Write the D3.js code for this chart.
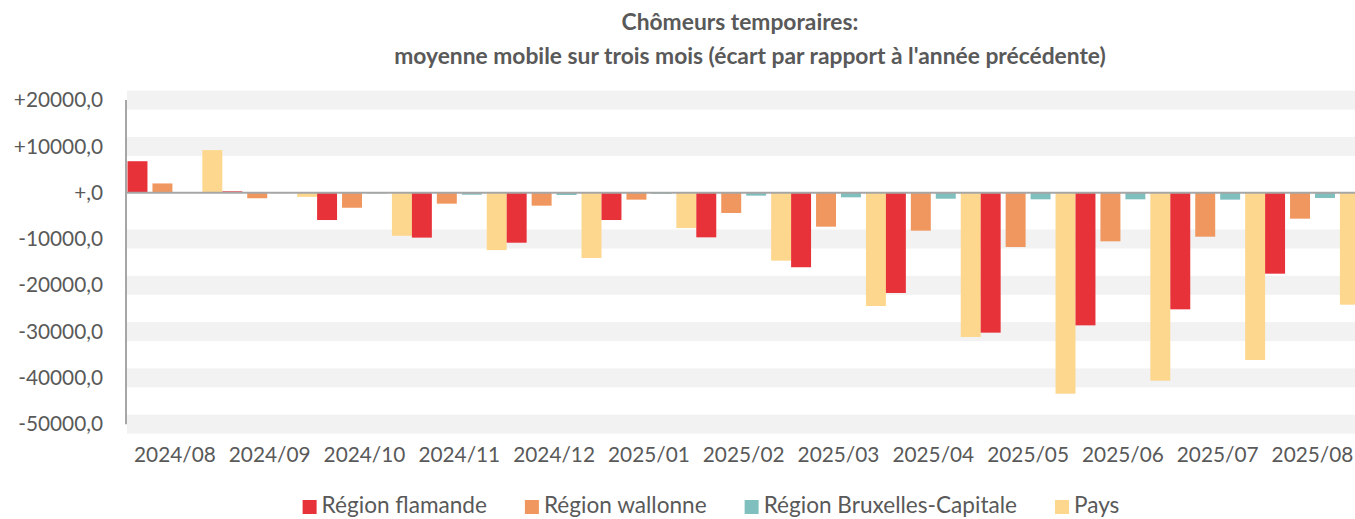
<!DOCTYPE html>
<html>
<head>
    <meta charset="utf-8">
    <title>Chômeurs temporaires</title>
    <script src="https://cdnjs.cloudflare.com/ajax/libs/d3/7.8.5/d3.min.js"></script>
    <style>
        body { margin: 0; background: #fff; }
        svg { display: block; font-family: Lato, "Open Sans", sans-serif; }
    </style>
</head>
<body>
    <svg id="chart" width="1355" height="519"></svg>

    <script>
        // months on the x axis
        var months = ["2024/08", "2024/09", "2024/10", "2024/11", "2024/12", "2025/01", "2025/02",
                      "2025/03", "2025/04", "2025/05", "2025/06", "2025/07", "2025/08"];

        var seriesNames = ["Région flamande", "Région wallonne", "Région Bruxelles-Capitale", "Pays"];

        var flamande  = [6800, 300, -5900, -9700, -10800, -5900, -9640, -16100, -21660, -30230, -28650, -25190, -17490];
        var wallonne  = [2000, -1200, -3250, -2370, -2800, -1500, -4380, -7340, -8200, -11730, -10500, -9500, -5610];
        var bruxelles = [100, -100, -150, -430, -500, -250, -640, -1000, -1300, -1430, -1430, -1500, -1150];
        var pays      = [9200, -900, -9300, -12400, -14100, -7620, -14680, -24470, -31170, -43410, -40600, -36130, -24190];

        var yTicks = [20000, 10000, 0, -10000, -20000, -30000, -40000, -50000];

        var colors = ["#E8323A", "#F0975F", "#7FC0BF", "#FDD78E"];
        var textColor = "#595959";
        var lineColor = "#A6A6A6";

        var allSeries = [flamande, wallonne, bruxelles, pays];
        var rows = months.map((m, i) => ({
            month: m,
            values: seriesNames.map((s, j) => ({ key: s, value: allSeries[j][i] }))
        }));

        var svg = d3.select("#chart");

        var x0 = d3.scaleBand().domain(months).range([127.5, 127.5 + 13 * 94.8]).padding(0);
        var x1 = d3.scaleBand().domain(seriesNames).range([0, x0.bandwidth()]).paddingInner(0.2).paddingOuter(0);
        var y = d3.scaleLinear().domain([-50000, 20000]).range([424.2, 100.1]);
        var color = d3.scaleOrdinal().domain(seriesNames).range(colors);

        // grey bands on the tick values (not on zero)
        svg.append("g")
            .selectAll("rect")
            .data(yTicks.filter(t => t !== 0))
            .enter()
            .append("rect")
            .attr("x", 127)
            .attr("width", 1355 - 127)
            .attr("y", d => y(d) - 9.5)
            .attr("height", 19)
            .attr("fill", "#F2F2F2");

        // y axis labels
        var yAxis = d3.axisLeft(y)
            .tickValues(yTicks)
            .tickSize(0)
            .tickPadding(0)
            .tickFormat(d => (d >= 0 ? "+" : "-") + (d === 0 ? "" : Math.abs(d)) + ",0");

        var yG = svg.append("g")
            .attr("transform", "translate(103,0)")
            .call(yAxis);
        yG.select(".domain").remove();
        yG.selectAll("text")
            .attr("fill", textColor)
            .style("font-size", "20.8px")
            .style("font-family", "Lato, sans-serif");

        // bars
        var groups = svg.append("g")
            .selectAll("g")
            .data(rows)
            .enter()
            .append("g")
            .attr("transform", d => `translate(${x0(d.month)},0)`);

        groups.selectAll("rect")
            .data(d => d.values)
            .enter()
            .append("rect")
            .attr("x", d => x1(d.key))
            .attr("width", x1.bandwidth())
            .attr("y", d => Math.min(y(0), y(d.value)))
            .attr("height", d => Math.abs(y(d.value) - y(0)))
            .attr("fill", d => color(d.key));

        // vertical axis line
        svg.append("line")
            .attr("x1", 126).attr("x2", 126)
            .attr("y1", y(20000)).attr("y2", y(-50000))
            .attr("stroke", lineColor)
            .attr("stroke-width", 2);

        // zero line
        svg.append("line")
            .attr("x1", 126).attr("x2", 1355)
            .attr("y1", y(0)).attr("y2", y(0))
            .attr("stroke", lineColor)
            .attr("stroke-width", 2);

        // x labels
        var xAxis = d3.axisBottom(x0).tickSize(0).tickPadding(0);
        var xG = svg.append("g")
            .attr("transform", "translate(0,447)")
            .call(xAxis);
        xG.select(".domain").remove();
        xG.selectAll("text")
            .attr("fill", textColor)
            .style("font-size", "20.8px")
            .style("font-family", "Lato, sans-serif");

        // title
        var title = svg.append("text")
            .attr("text-anchor", "middle")
            .attr("fill", textColor)
            .style("font-weight", "bold")
            .style("font-size", "22.8px");
        title.append("tspan").attr("x", 740).attr("y", 30).text("Chômeurs temporaires:");
        title.append("tspan").attr("x", 750).attr("y", 64).text("moyenne mobile sur trois mois (écart par rapport à l'année précédente)");

        // legend
        var legend = svg.append("g");
        var items = legend.selectAll("g")
            .data(seriesNames)
            .enter()
            .append("g");

        items.append("rect")
            .attr("width", 14)
            .attr("height", 14)
            .attr("y", 500)
            .attr("fill", d => color(d));

        items.append("text")
            .attr("x", 19)
            .attr("y", 513)
            .attr("fill", textColor)
            .style("font-size", "22.6px")
            .text(d => d);

        var pos = 0, offsets = [];
        items.each(function () {
            offsets.push(pos);
            pos += 19 + d3.select(this).select("text").node().getComputedTextLength() + 38;
        });
        var legendWidth = pos - 38;
        var startX = 711 - legendWidth / 2;
        items.attr("transform", (d, i) => `translate(${startX + offsets[i]},0)`);
    </script>
</body>
</html>
